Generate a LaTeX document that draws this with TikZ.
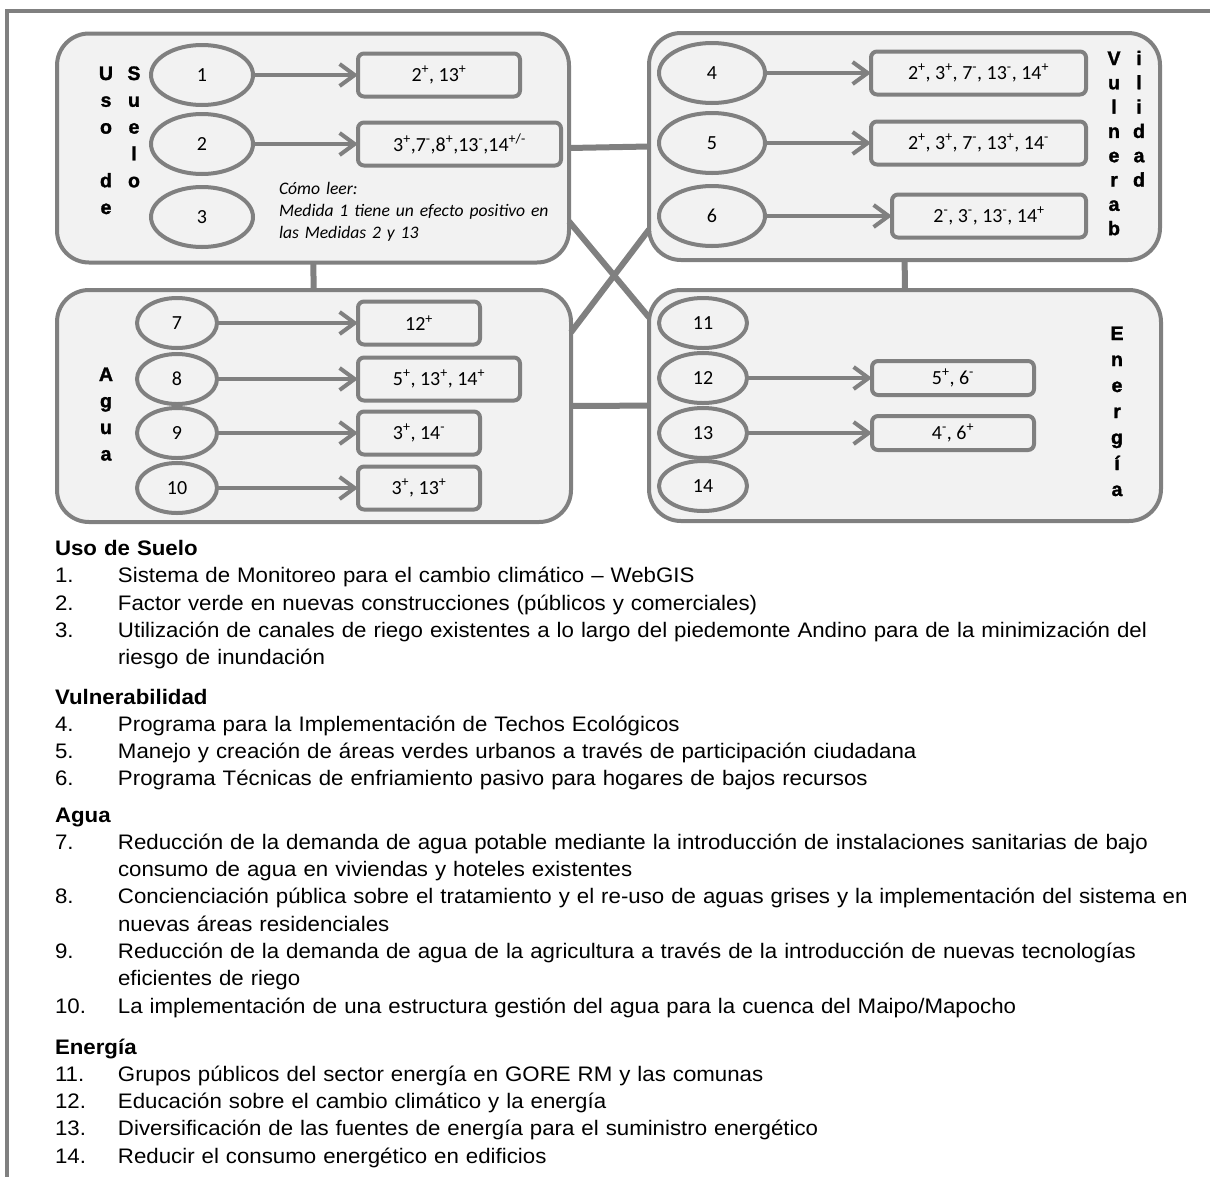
\documentclass[tikz,border=0pt]{standalone}
\usepackage{fontspec}
\setmainfont{Liberation Sans}[FakeStretch=1.06]
\newfontfamily\calibri{Carlito}
\newfontfamily\negrita{Liberation Sans}[BoldFeatures={FakeBold=1.5}]
\usetikzlibrary{arrows.meta,positioning,shapes.geometric}
\definecolor{linea}{HTML}{808080}
\definecolor{fondo}{HTML}{F2F2F2}
\newcommand\mas{\textsuperscript{+}}
\newcommand\menos{\textsuperscript{-}}
\newcommand\medida[2]{\par\noindent\hangindent=63pt\hangafter=1\makebox[63pt][l]{#1}#2}
\tikzset{>={Straight Barb[length=15pt,width=22pt]},
         every node/.append style={outer sep=0pt}}
\tikzstyle{grupo}=[draw=linea, fill=fondo, line width=4pt, rounded corners=32pt]
\tikzstyle{medida}=[ellipse, draw=linea, fill=fondo, line width=4pt, inner sep=0pt,
   font=\calibri\fontsize{20}{24}\selectfont]
\tikzstyle{efecto}=[draw=linea, fill=fondo, line width=4pt, rounded corners=6pt,
   inner sep=0pt, minimum height=43pt, font=\calibri\fontsize{20}{24}\selectfont]
\tikzstyle{flecha}=[draw=linea, line width=4pt, ->]
\tikzstyle{enlace}=[draw=linea, line width=6pt]
\tikzstyle{letra}=[anchor=base, inner sep=0pt, font=\negrita\bfseries\fontsize{19.5}{20}\selectfont]
\tikzstyle{lista}=[anchor=base west, inner sep=0pt, text width=1200pt, align=left,
   font=\fontsize{21}{27.3}\selectfont]

\begin{document}
\begin{tikzpicture}[x=1pt, y=-1pt]
  \useasboundingbox (0,0) rectangle (1210,1176);
  \draw[linea, line width=4pt] (7,1180) -- (7,11) -- (1215,11);

  % the four groups
  \node[grupo, minimum width=512pt, minimum height=229pt] (suelo) at (313,148) {};
  \node[grupo, minimum width=511pt, minimum height=227pt] (vuln) at (904.5,146.5) {};
  \node[grupo, minimum width=514pt, minimum height=232pt] (agua) at (314,406) {};
  \node[grupo, minimum width=512pt, minimum height=231pt] (energia) at (905,405.5) {};

  \draw[enlace] (suelo.east) -- (vuln.west);
  \draw[enlace] (suelo) -- (agua);
  \draw[enlace] (vuln) -- (energia);
  \draw[enlace] (agua) -- (energia);
  \draw[enlace] (suelo.-16.8) -- (energia.161);
  \draw[enlace] (agua.16.8) -- (vuln.-162.5);

  % Uso de Suelo
  \foreach \l/\r in {U/0,s/1,o/2,d/4,e/5}
    \node[letra] (uso-\r) at (106,80+26.8*\r) {\l};
  \foreach \l/\r in {S/0,u/1,e/2,l/3,o/4}
    \node[letra] (sue-\r) at (134,80+26.8*\r) {\l};
  \node[medida, minimum width=102pt, minimum height=60pt] (m1) at (202,75) {1};
  \node[medida, minimum width=102pt, minimum height=60pt] (m2) at (202,144) {2};
  \node[medida, minimum width=102pt, minimum height=60pt] (m3) at (202,217) {3};
  \node[efecto, minimum width=162pt, right=105pt of m1] (e1) {2\mas, 13\mas};
  \node[efecto, minimum width=203pt, right=105pt of m2] (e2) {3\mas,7\menos,8\mas,13\menos,14\textsuperscript{+/-}};
  \draw[flecha] (m1) -- (e1);
  \draw[flecha] (m2) -- (e2);
  \node[anchor=base west, inner sep=0pt, text width=290pt, align=left,
        font=\calibri\itshape\fontsize{17.6}{22}\selectfont] (leer) at (279,194)
        {Cómo leer:\\Medida 1 tiene un efecto positivo en\\las Medidas 2 y 13};

  % Vulnerabilidad
  \foreach \l/\r in {V/0,u/1,l/2,n/3,e/4,r/5,a/6,b/7}
    \node[letra] (vul-\r) at (1114,65+24.3*\r) {\l};
  \foreach \l/\r in {i/0,l/1,i/2,d/3,a/4,d/5}
    \node[letra] (idad-\r) at (1139,65+24.3*\r) {\l};
  \node[medida, minimum width=106pt, minimum height=60pt] (m4) at (712,73) {4};
  \node[medida, minimum width=106pt, minimum height=60pt] (m5) at (712,143) {5};
  \node[medida, minimum width=106pt, minimum height=60pt] (m6) at (712,216) {6};
  \node[efecto, minimum width=215pt, right=106pt of m4] (e4) {2\mas, 3\mas, 7\menos, 13\menos, 14\mas};
  \node[efecto, minimum width=215pt, right=106pt of m5] (e5) {2\mas, 3\mas, 7\menos, 13\mas, 14\menos};
  \node[efecto, minimum width=194pt, right=127pt of m6] (e6) {2\menos, 3\menos, 13\menos, 14\mas};
  \draw[flecha] (m4) -- (e4);
  \draw[flecha] (m5) -- (e5);
  \draw[flecha] (m6) -- (e6);

  % Agua
  \foreach \l/\r in {A/0,g/1,u/2,a/3}
    \node[letra] (agu-\r) at (106,381+26.5*\r) {\l};
  \node[medida, minimum width=80pt, minimum height=50pt] (m7) at (177,323) {7};
  \node[medida, minimum width=80pt, minimum height=50pt] (m8) at (177,379) {8};
  \node[medida, minimum width=80pt, minimum height=50pt] (m9) at (177,433) {9};
  \node[medida, minimum width=80pt, minimum height=50pt] (m10) at (177,488) {10};
  \node[efecto, minimum width=122pt, right=141pt of m7] (e7) {12\mas};
  \node[efecto, minimum width=162pt, right=141pt of m8] (e8) {5\mas, 13\mas, 14\mas};
  \node[efecto, minimum width=122pt, right=141pt of m9] (e9) {3\mas, 14\menos};
  \node[efecto, minimum width=122pt, right=141pt of m10] (e10) {3\mas, 13\mas};
  \foreach \i in {7,8,9,10}
    \draw[flecha] (m\i) -- (e\i);

  % Energia
  \foreach \l/\r in {E/0,n/1,e/2,r/3,g/4,í/5,a/6}
    \node[letra] (ene-\r) at (1117,340+26*\r) {\l};
  \node[medida, minimum width=88pt, minimum height=50pt] (m11) at (703,323) {11};
  \node[medida, minimum width=88pt, minimum height=50pt] (m12) at (703,378) {12};
  \node[medida, minimum width=88pt, minimum height=50pt] (m13) at (703,433) {13};
  \node[medida, minimum width=88pt, minimum height=50pt] (m14) at (703,486) {14};
  \node[efecto, minimum width=162pt, minimum height=34pt, right=125pt of m12] (e12) {5\mas, 6\menos};
  \node[efecto, minimum width=162pt, minimum height=34pt, right=125pt of m13] (e13) {4\menos, 6\mas};
  \draw[flecha] (m12) -- (e12);
  \draw[flecha] (m13) -- (e13);

  % lista de medidas
  \node[lista] (listaSuelo) at (55,555.5) {\textbf{Uso de Suelo}
    \medida{1.}{Sistema de Monitoreo para el cambio climático – WebGIS}
    \medida{2.}{Factor verde en nuevas construcciones (públicos y comerciales)}
    \medida{3.}{Utilización de canales de riego existentes a lo largo del piedemonte Andino para de la minimización del\newline riesgo de inundación}\par};
  \node[lista] (listaVuln) at (55,704) {\textbf{Vulnerabilidad}
    \medida{4.}{Programa para la Implementación de Techos Ecológicos}
    \medida{5.}{Manejo y creación de áreas verdes urbanos a través de participación ciudadana}
    \medida{6.}{Programa Técnicas de enfriamiento pasivo para hogares de bajos recursos}\par};
  \node[lista] (listaAgua) at (55,822) {\textbf{Agua}
    \medida{7.}{Reducción de la demanda de agua potable mediante la introducción de instalaciones sanitarias de bajo\newline consumo de agua en viviendas y hoteles existentes}
    \medida{8.}{Concienciación pública sobre el tratamiento y el re-uso de aguas grises y la implementación del sistema en\newline nuevas áreas residenciales}
    \medida{9.}{Reducción de la demanda de agua de la agricultura a través de la introducción de nuevas tecnologías\newline eficientes de riego}
    \medida{10.}{La implementación de una estructura gestión del agua para la cuenca del Maipo/Mapocho}\par};
  \node[lista] (listaEnergia) at (55,1054) {\textbf{Energía}
    \medida{11.}{Grupos públicos del sector energía en GORE RM y las comunas}
    \medida{12.}{Educación sobre el cambio climático y la energía}
    \medida{13.}{Diversificación de las fuentes de energía para el suministro energético}
    \medida{14.}{Reducir el consumo energético en edificios}\par};
\end{tikzpicture}
\end{document}
